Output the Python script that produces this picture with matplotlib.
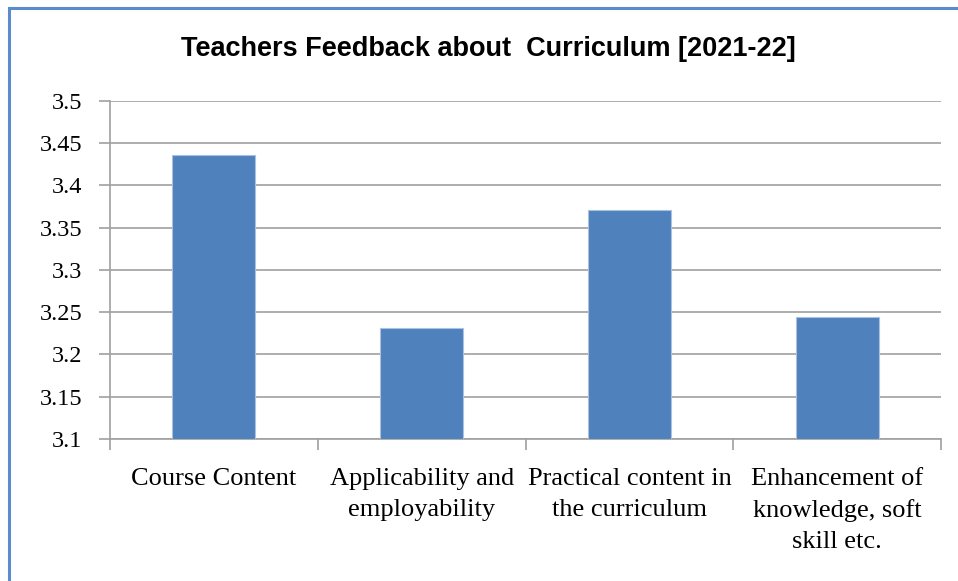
import matplotlib
matplotlib.use("Agg")
import matplotlib.pyplot as plt
from matplotlib.patches import Rectangle
import numpy as np

categories = ["Course Content",
              "Applicability and\nemployability",
              "Practical content in\nthe curriculum",
              "Enhancement of\nknowledge, soft\nskill etc."]
scores = [3.436, 3.231, 3.371, 3.244]
yticks = [3.1, 3.15, 3.2, 3.25, 3.3, 3.35, 3.4, 3.45, 3.5]
ytick_labels = ["3.1", "3.15", "3.2", "3.25", "3.3", "3.35", "3.4", "3.45", "3.5"]

fig = plt.figure(figsize=(9.58, 5.81), dpi=100)
ax = fig.add_axes([0.1148, 0.2444, 0.8675, 0.5818])

x = np.arange(len(categories))
ax.bar(x, [s - 3.1 for s in scores], bottom=3.1, width=0.4,
       color="#4F81BD", edgecolor="#A9C2E0", linewidth=0.8, zorder=3)

ax.set_xlim(-0.5, len(categories) - 0.5)
ax.set_ylim(3.1, 3.5)
ax.set_yticks(yticks)
ax.set_yticklabels(ytick_labels, family="Liberation Serif", fontsize=17.5)
ax.yaxis.grid(True, color="#A0A0A0", linewidth=1.2, zorder=0)

# category labels between boundary ticks
ax.set_xticks(x)
ax.set_xticklabels(categories, family="Liberation Serif", fontsize=19,
                   linespacing=1.5, va="top")
ax.tick_params(axis="x", length=0, pad=21)
ax.set_xticks(np.arange(-0.5, len(categories)), minor=True)
ax.tick_params(axis="x", which="minor", length=8, color="#A0A0A0", width=1.2)
ax.tick_params(axis="y", length=8, color="#A0A0A0", width=1.2, pad=12)

for side in ["top", "right"]:
    ax.spines[side].set_visible(False)
for side in ["left", "bottom"]:
    ax.spines[side].set_color("#A0A0A0")
    ax.spines[side].set_linewidth(1.2)

fig.text(0.51, 0.915, "Teachers Feedback about  Curriculum [2021-22]",
         ha="center", va="center", fontsize=19.5, fontweight="bold",
         family=["Liberation Sans Narrow", "Liberation Sans", "DejaVu Sans"])

# outer frame (left and top visible)
fig.patches.append(Rectangle((9 / 958, -0.1), 1.2, 1 - 8 / 581 + 0.1,
                             transform=fig.transFigure, fill=False,
                             edgecolor="#5B8BCB", linewidth=2.2))

fig.savefig("out.png", dpi=100)
